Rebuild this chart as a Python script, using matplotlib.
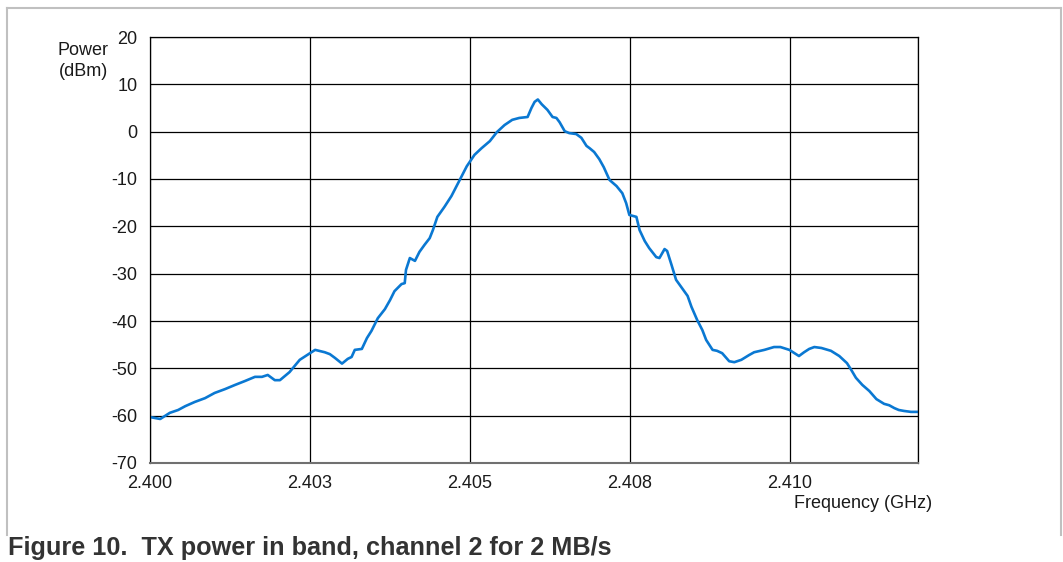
import matplotlib.pyplot as plt
from matplotlib.lines import Line2D

# TX power spectrum, channel 2 at 2 MB/s
freq_ghz = [
    2.40000, 2.40016, 2.40023, 2.40031, 2.40044, 2.40055, 2.40070, 2.40086,
    2.40101, 2.40117, 2.40133, 2.40148, 2.40164, 2.40175, 2.40184, 2.40195,
    2.40203, 2.40218, 2.40234, 2.40250, 2.40258, 2.40273, 2.40281, 2.40289,
    2.40300, 2.40309, 2.40315, 2.40320, 2.40331, 2.40339, 2.40346, 2.40356,
    2.40367, 2.40375, 2.40382, 2.40393, 2.40398, 2.40400, 2.40406, 2.40414,
    2.40421, 2.40429, 2.40437, 2.40442, 2.40449, 2.40460, 2.40471, 2.40484,
    2.40495, 2.40507, 2.40518, 2.40531, 2.40542, 2.40554, 2.40566, 2.40577,
    2.40590, 2.40596, 2.40601, 2.40606, 2.40612, 2.40621, 2.40629, 2.40635,
    2.40640, 2.40648, 2.40655, 2.40666, 2.40674, 2.40682, 2.40687, 2.40694,
    2.40702, 2.40709, 2.40718, 2.40729, 2.40738, 2.40744, 2.40749, 2.40760,
    2.40765, 2.40773, 2.40780, 2.40791, 2.40796, 2.40804, 2.40808, 2.40815,
    2.40822, 2.40832, 2.40840, 2.40846, 2.40855, 2.40863, 2.40869, 2.40879,
    2.40886, 2.40894, 2.40905, 2.40913, 2.40924, 2.40936, 2.40944, 2.40960,
    2.40975, 2.40985, 2.40999, 2.41007, 2.41014, 2.41022, 2.41030, 2.41038,
    2.41049, 2.41064, 2.41077, 2.41089, 2.41096, 2.41103, 2.41113, 2.41124,
    2.41135, 2.41147, 2.41155, 2.41163, 2.41170, 2.41178, 2.41189, 2.41200,
]
power_dbm = [
    -60.3, -60.7, -60.1, -59.4, -58.8, -58.0, -57.1, -56.3,
    -55.2, -54.4, -53.5, -52.7, -51.8, -51.8, -51.4, -52.5,
    -52.5, -50.8, -48.2, -46.8, -46.1, -46.6, -47.0, -47.8,
    -49.0, -48.0, -47.6, -46.1, -45.9, -43.6, -42.1, -39.4,
    -37.5, -35.6, -33.7, -32.2, -32.0, -29.2, -26.7, -27.3,
    -25.4, -23.9, -22.5, -20.8, -18.0, -15.9, -13.6, -10.2,
    -7.3, -4.9, -3.5, -2.0, -0.1, 1.4, 2.5, 2.9,
    3.1, 5.0, 6.3, 6.8, 5.8, 4.6, 3.1, 2.9,
    2.0, 0.1, -0.3, -0.5, -1.3, -3.0, -3.5, -4.3,
    -5.8, -7.5, -10.2, -11.5, -13.0, -15.1, -17.6, -18.0,
    -20.8, -23.1, -24.6, -26.5, -26.7, -24.8, -25.2, -28.2,
    -31.3, -33.2, -34.7, -37.0, -39.8, -41.9, -44.0, -46.1,
    -46.3, -46.8, -48.5, -48.7, -48.2, -47.2, -46.6, -46.1,
    -45.5, -45.5, -46.1, -46.8, -47.4, -46.6, -45.9, -45.5,
    -45.7, -46.3, -47.4, -48.9, -50.4, -52.0, -53.5, -54.8,
    -56.5, -57.5, -57.8, -58.4, -58.8, -59.0, -59.2, -59.2,
]

x_ticks = [2.400, 2.4025, 2.405, 2.4075, 2.410, 2.4120]
x_labels = ["2.400", "2.403", "2.405", "2.408", "2.410", ""]
y_ticks = [20, 10, 0, -10, -20, -30, -40, -50, -60, -70]

plt.rcParams['font.family'] = ['Liberation Sans', 'DejaVu Sans']
plt.rcParams['axes.unicode_minus'] = False

fig = plt.figure(figsize=(10.63, 5.62), dpi=100)
ax = fig.add_axes([150 / 1063, 1 - 463 / 562, 768 / 1063, 426 / 562])

ax.plot(freq_ghz, power_dbm, color='#0a78d2', lw=1.9, solid_joinstyle='round')

ax.set_xlim(2.400, 2.412)
ax.set_ylim(-70, 20)
ax.set_xticks(x_ticks)
ax.set_xticklabels(x_labels)
ax.set_yticks(y_ticks)
ax.tick_params(length=0, labelsize=13, colors='#1a1a1a')
ax.tick_params(axis='y', pad=9)
ax.tick_params(axis='x', pad=9)
ax.grid(True, color='black', lw=0.9)
for side in ['top', 'right', 'left']:
    ax.spines[side].set_color('black')
    ax.spines[side].set_linewidth(0.9)
ax.spines['bottom'].set_color('#707070')
ax.spines['bottom'].set_linewidth(1.5)

fig.text(83 / 1063, 1 - 61 / 562, "Power\n(dBm)", ha='center', va='center',
         fontsize=13, color='#1a1a1a', linespacing=1.35)
fig.text(932 / 1063, 1 - 503 / 562, "Frequency (GHz)", ha='right', va='center',
         fontsize=13, color='#1a1a1a')
fig.text(8 / 1063, 1 - 548 / 562, "Figure 10.  TX power in band, channel 2 for 2 MB/s",
         ha='left', va='center', fontsize=18.2, fontweight='bold', color='#333333')

# page frame around the figure
frame = dict(color='#c0c0c0', lw=1.5, transform=fig.transFigure)
fig.add_artist(Line2D([7 / 1063, 1061 / 1063], [1 - 8 / 562, 1 - 8 / 562], **frame))
fig.add_artist(Line2D([7 / 1063, 7 / 1063], [1 - 8 / 562, 1 - 535 / 562], **frame))
fig.add_artist(Line2D([1061 / 1063, 1061 / 1063], [1 - 8 / 562, 1 - 535 / 562], **frame))

fig.savefig("out.png", dpi=100)
